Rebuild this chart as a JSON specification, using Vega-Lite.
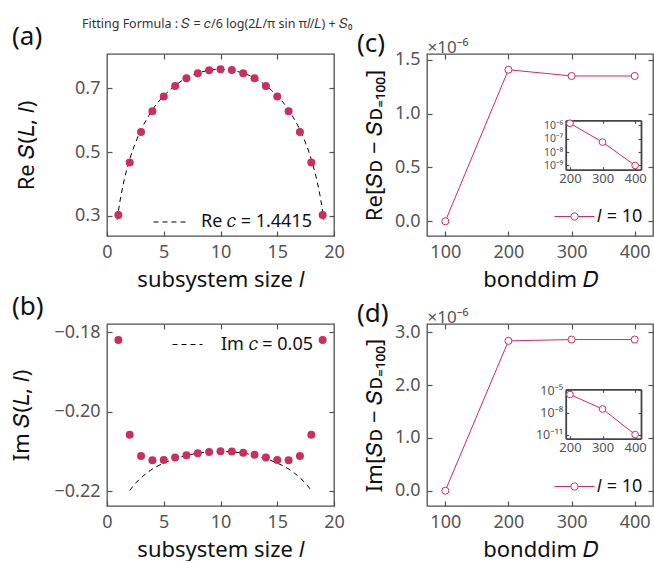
{
  "$schema": "https://vega.github.io/schema/vega-lite/v6.json",
  "background": "white",
  "padding": {"left": 10, "top": 18, "right": 0, "bottom": 0},
  "autosize": {"type": "pad"},
  "title": {"text": "Fitting Formula : 𝑆 = 𝑐/6 log(2𝐿/π sin π𝑙/𝐿) + 𝑆₀", "anchor": "start", "frame": "group", "dx": -25, "offset": -7, "fontSize": 12.5, "fontWeight": "normal", "color": "#333"},
  "bounds": "flush",
  "columns": 2,
  "spacing": {"row": 88, "column": 93},
  "resolve": {"scale": {"color": "independent", "strokeDash": "independent"}, "legend": {"color": "independent", "strokeDash": "independent"}},
  "datasets": {
    "pointsA": [
      {"l": 1, "S": 0.303}, {"l": 2, "S": 0.467}, {"l": 3, "S": 0.563}, {"l": 4, "S": 0.628}, {"l": 5, "S": 0.674},
      {"l": 6, "S": 0.707}, {"l": 7, "S": 0.731}, {"l": 8, "S": 0.747}, {"l": 9, "S": 0.756}, {"l": 10, "S": 0.759},
      {"l": 11, "S": 0.757}, {"l": 12, "S": 0.747}, {"l": 13, "S": 0.731}, {"l": 14, "S": 0.707}, {"l": 15, "S": 0.674},
      {"l": 16, "S": 0.628}, {"l": 17, "S": 0.563}, {"l": 18, "S": 0.467}, {"l": 19, "S": 0.303}
    ],
    "curveA": [
      {"l": 0.9, "S": 0.288, "fit": "Re 𝑐 = 1.4415"}, {"l": 1, "S": 0.314, "fit": "Re 𝑐 = 1.4415"}, {"l": 1.25, "S": 0.367, "fit": "Re 𝑐 = 1.4415"},
      {"l": 1.5, "S": 0.41, "fit": "Re 𝑐 = 1.4415"}, {"l": 2, "S": 0.477, "fit": "Re 𝑐 = 1.4415"}, {"l": 2.5, "S": 0.528, "fit": "Re 𝑐 = 1.4415"},
      {"l": 3, "S": 0.57, "fit": "Re 𝑐 = 1.4415"}, {"l": 3.5, "S": 0.603, "fit": "Re 𝑐 = 1.4415"}, {"l": 4, "S": 0.632, "fit": "Re 𝑐 = 1.4415"},
      {"l": 4.5, "S": 0.656, "fit": "Re 𝑐 = 1.4415"}, {"l": 5, "S": 0.676, "fit": "Re 𝑐 = 1.4415"}, {"l": 5.5, "S": 0.693, "fit": "Re 𝑐 = 1.4415"},
      {"l": 6, "S": 0.708, "fit": "Re 𝑐 = 1.4415"}, {"l": 7, "S": 0.732, "fit": "Re 𝑐 = 1.4415"}, {"l": 8, "S": 0.747, "fit": "Re 𝑐 = 1.4415"},
      {"l": 9, "S": 0.756, "fit": "Re 𝑐 = 1.4415"}, {"l": 10, "S": 0.759, "fit": "Re 𝑐 = 1.4415"}, {"l": 11, "S": 0.756, "fit": "Re 𝑐 = 1.4415"},
      {"l": 12, "S": 0.747, "fit": "Re 𝑐 = 1.4415"}, {"l": 13, "S": 0.732, "fit": "Re 𝑐 = 1.4415"}, {"l": 14, "S": 0.708, "fit": "Re 𝑐 = 1.4415"},
      {"l": 14.5, "S": 0.693, "fit": "Re 𝑐 = 1.4415"}, {"l": 15, "S": 0.676, "fit": "Re 𝑐 = 1.4415"}, {"l": 15.5, "S": 0.656, "fit": "Re 𝑐 = 1.4415"},
      {"l": 16, "S": 0.632, "fit": "Re 𝑐 = 1.4415"}, {"l": 16.5, "S": 0.603, "fit": "Re 𝑐 = 1.4415"}, {"l": 17, "S": 0.57, "fit": "Re 𝑐 = 1.4415"},
      {"l": 17.5, "S": 0.528, "fit": "Re 𝑐 = 1.4415"}, {"l": 18, "S": 0.477, "fit": "Re 𝑐 = 1.4415"}, {"l": 18.5, "S": 0.41, "fit": "Re 𝑐 = 1.4415"},
      {"l": 18.75, "S": 0.367, "fit": "Re 𝑐 = 1.4415"}, {"l": 19, "S": 0.314, "fit": "Re 𝑐 = 1.4415"}, {"l": 19.1, "S": 0.288, "fit": "Re 𝑐 = 1.4415"}
    ],
    "pointsB": [
      {"l": 1, "S": -0.1819}, {"l": 2, "S": -0.2058}, {"l": 3, "S": -0.2111}, {"l": 4, "S": -0.2122}, {"l": 5, "S": -0.2121},
      {"l": 6, "S": -0.2115}, {"l": 7, "S": -0.2109}, {"l": 8, "S": -0.2104}, {"l": 9, "S": -0.2101}, {"l": 10, "S": -0.2099},
      {"l": 11, "S": -0.21}, {"l": 12, "S": -0.2103}, {"l": 13, "S": -0.2108}, {"l": 14, "S": -0.2115}, {"l": 15, "S": -0.2121},
      {"l": 16, "S": -0.2122}, {"l": 17, "S": -0.2111}, {"l": 18, "S": -0.2058}, {"l": 19, "S": -0.1819}
    ],
    "curveB": [
      {"l": 2, "S": -0.2198, "fit": "Im 𝑐 = 0.05"}, {"l": 2.5, "S": -0.218, "fit": "Im 𝑐 = 0.05"}, {"l": 3, "S": -0.2166, "fit": "Im 𝑐 = 0.05"},
      {"l": 3.5, "S": -0.2154, "fit": "Im 𝑐 = 0.05"}, {"l": 4, "S": -0.2144, "fit": "Im 𝑐 = 0.05"}, {"l": 5, "S": -0.2129, "fit": "Im 𝑐 = 0.05"},
      {"l": 6, "S": -0.2118, "fit": "Im 𝑐 = 0.05"}, {"l": 7, "S": -0.211, "fit": "Im 𝑐 = 0.05"}, {"l": 8, "S": -0.2104, "fit": "Im 𝑐 = 0.05"},
      {"l": 9, "S": -0.2101, "fit": "Im 𝑐 = 0.05"}, {"l": 10, "S": -0.21, "fit": "Im 𝑐 = 0.05"}, {"l": 11, "S": -0.2101, "fit": "Im 𝑐 = 0.05"},
      {"l": 12, "S": -0.2104, "fit": "Im 𝑐 = 0.05"}, {"l": 13, "S": -0.211, "fit": "Im 𝑐 = 0.05"}, {"l": 14, "S": -0.2118, "fit": "Im 𝑐 = 0.05"},
      {"l": 15, "S": -0.2129, "fit": "Im 𝑐 = 0.05"}, {"l": 16, "S": -0.2144, "fit": "Im 𝑐 = 0.05"}, {"l": 16.5, "S": -0.2154, "fit": "Im 𝑐 = 0.05"},
      {"l": 17, "S": -0.2166, "fit": "Im 𝑐 = 0.05"}, {"l": 17.5, "S": -0.218, "fit": "Im 𝑐 = 0.05"}, {"l": 18, "S": -0.2198, "fit": "Im 𝑐 = 0.05"}
    ],
    "mainC": [
      {"D": 100, "v": 0, "series": "𝑙 = 10"}, {"D": 200, "v": 1.407, "series": "𝑙 = 10"},
      {"D": 300, "v": 1.349, "series": "𝑙 = 10"}, {"D": 400, "v": 1.349, "series": "𝑙 = 10"}
    ],
    "insetC": [
      {"D": 200, "diff": 1.4e-6}, {"D": 300, "diff": 5.5e-8}, {"D": 400, "diff": 1e-9}
    ],
    "mainD": [
      {"D": 100, "v": 0, "series": "𝑙 = 10"}, {"D": 200, "v": 2.84, "series": "𝑙 = 10"},
      {"D": 300, "v": 2.865, "series": "𝑙 = 10"}, {"D": 400, "v": 2.865, "series": "𝑙 = 10"}
    ],
    "insetD": [
      {"D": 200, "diff": 2.84e-6}, {"D": 300, "diff": 3e-8}, {"D": 400, "diff": 1e-11}
    ]
  },
  "concat": [
    {
      "width": 227, "height": 182,
      "title": {"text": "(a)", "anchor": "start", "frame": "group", "dx": -95, "offset": 3, "fontSize": 26, "fontWeight": "normal", "color": "#111"},
      "layer": [
        {
          "data": {"name": "curveA"},
          "mark": {"type": "line", "color": "black", "strokeWidth": 1, "interpolate": "monotone"},
          "encoding": {
            "x": {"field": "l", "type": "quantitative", "scale": {"domain": [0, 20], "nice": false, "zero": false},
                  "axis": {"orient": "bottom", "values": [0, 5, 10, 15, 20], "title": "subsystem size 𝑙", "titlePadding": 8}},
            "y": {"field": "S", "type": "quantitative", "scale": {"domain": [0.237, 0.807], "nice": false, "zero": false},
                  "axis": {"orient": "left", "values": [0.3, 0.5, 0.7], "format": ".1f", "title": "Re 𝑆(𝐿, 𝑙)", "titlePadding": 36}},
            "strokeDash": {"field": "fit", "type": "nominal", "scale": {"domain": ["Re 𝑐 = 1.4415"], "range": [[5, 4]]},
                  "legend": {"title": null, "orient": "none", "legendX": 46, "legendY": 150, "symbolType": "stroke", "symbolSize": 1225, "symbolStrokeWidth": 1, "symbolStrokeColor": "black", "labelFontSize": 18, "labelColor": "#111", "labelOffset": 12, "padding": 0}}
          }
        },
        {
          "data": {"name": "pointsA"},
          "mark": {"type": "circle", "size": 64, "color": "#C9305F", "opacity": 1},
          "encoding": {
            "x": {"field": "l", "type": "quantitative", "scale": {"domain": [0, 20], "nice": false, "zero": false},
                  "axis": {"orient": "top", "values": [5, 10, 15], "labels": false, "title": null}},
            "y": {"field": "S", "type": "quantitative", "scale": {"domain": [0.237, 0.807], "nice": false, "zero": false},
                  "axis": {"orient": "right", "values": [0.3, 0.5, 0.7], "labels": false, "title": null}}
          }
        }
      ],
      "resolve": {"axis": {"x": "independent", "y": "independent"}}
    },
    {
      "width": 226, "height": 182,
      "title": {"text": "(c)", "anchor": "start", "frame": "group", "dx": -70, "dy": 22, "offset": 3, "fontSize": 26, "fontWeight": "normal", "color": "#111"},
      "layer": [
        {
          "layer": [
            {
              "data": {"name": "mainC"},
              "mark": {"type": "line", "strokeWidth": 1},
              "encoding": {
                "x": {"field": "D", "type": "quantitative", "scale": {"domain": [71, 429], "nice": false, "zero": false},
                      "axis": {"orient": "bottom", "values": [100, 200, 300, 400], "title": "bonddim 𝐷", "titlePadding": 8}},
                "y": {"field": "v", "type": "quantitative", "scale": {"domain": [-0.137, 1.553], "nice": false, "zero": false},
                      "axis": {"orient": "left", "values": [0, 0.5, 1, 1.5], "format": ".1f", "title": "Re[𝑆ᴅ − 𝑆ᴅ₌₁₀₀]", "titlePadding": 8}},
                "color": {"field": "series", "type": "nominal", "scale": {"range": ["#D42A5E"]},
                      "legend": {"title": null, "orient": "bottom-right", "offset": 10, "padding": 0, "symbolType": "M-1,0H-0.18M0.18,0H1M0.18,0A0.18,0.18,0,1,1,-0.18,0A0.18,0.18,0,1,1,0.18,0Z", "symbolSize": 1600, "symbolStrokeWidth": 1, "symbolFillColor": "white", "labelFontSize": 18, "labelColor": "#111", "labelOffset": 2,
                        "encode": {"symbols": {"update": {"fill": {"value": "white"}, "stroke": {"value": "#D42A5E"}, "strokeWidth": {"value": 1}}}}}}
              }
            },
            {
              "data": {"name": "mainC"},
              "mark": {"type": "point", "shape": "circle", "fill": "white", "stroke": "#D42A5E", "strokeWidth": 1, "size": 50, "opacity": 1, "fillOpacity": 1},
              "encoding": {
                "x": {"field": "D", "type": "quantitative", "scale": {"domain": [71, 429], "nice": false, "zero": false},
                      "axis": {"orient": "top", "values": [100, 200, 300, 400], "labels": false, "title": "×10⁻⁶", "titleAnchor": "start", "titleAlign": "left", "titleFontSize": 17, "titleColor": "#555", "titlePadding": -3}},
                "y": {"field": "v", "type": "quantitative", "scale": {"domain": [-0.137, 1.553], "nice": false, "zero": false},
                      "axis": {"orient": "right", "values": [0, 0.5, 1, 1.5], "labels": false, "title": null}}
              }
            }
          ],
          "resolve": {"axis": {"x": "independent", "y": "independent"}}
        },
        {
          "layer": [
            {
              "data": {"name": "insetC"},
              "mark": {"type": "line", "strokeWidth": 1, "color": "#D42A5E"},
              "encoding": {
                "x": {"field": "D", "type": "quantitative", "scale": {"domain": [187, 418], "range": [138.7, 214], "nice": false, "zero": false},
                      "axis": {"orient": "bottom", "offset": -66.3, "values": [200, 300, 400], "title": null, "domain": true, "domainColor": "#444", "domainWidth": 1.8, "tickSize": -3, "labelFontSize": 13, "labelPadding": 6}},
                "y": {"field": "diff", "type": "quantitative", "scale": {"type": "log", "domain": [4.86e-10, 2.32e-6], "range": [115.7, 66.3], "nice": false, "zero": false},
                      "axis": {"orient": "left", "offset": -138.7, "values": [1e-9, 1e-8, 1e-7, 1e-6], "labelOverlap": false, "labelExpr": "datum.value < 5e-9 ? '10⁻⁹' : datum.value < 5e-8 ? '10⁻⁸' : datum.value < 5e-7 ? '10⁻⁷' : '10⁻⁶'", "title": null, "domain": true, "domainColor": "#444", "domainWidth": 1.8, "tickSize": -3, "labelFontSize": 10.5, "labelPadding": 6}}
              }
            },
            {
              "data": {"name": "insetC"},
              "mark": {"type": "point", "shape": "circle", "fill": "white", "stroke": "#D42A5E", "strokeWidth": 1, "size": 45, "opacity": 1, "fillOpacity": 1},
              "encoding": {
                "x": {"field": "D", "type": "quantitative", "scale": {"domain": [187, 418], "range": [138.7, 214], "nice": false, "zero": false},
                      "axis": {"orient": "top", "offset": -66.3, "values": [200, 300, 400], "labels": false, "title": null, "domain": true, "domainColor": "#444", "domainWidth": 1.8, "tickSize": -3}},
                "y": {"field": "diff", "type": "quantitative", "scale": {"type": "log", "domain": [4.86e-10, 2.32e-6], "range": [115.7, 66.3], "nice": false, "zero": false},
                      "axis": {"orient": "right", "offset": -12, "values": [1e-9, 1e-8, 1e-7, 1e-6], "labels": false, "title": null, "domain": true, "domainColor": "#444", "domainWidth": 1.8, "tickSize": -3}}
              }
            }
          ],
          "resolve": {"axis": {"x": "independent", "y": "independent"}}
        }
      ],
      "resolve": {"scale": {"x": "independent", "y": "independent"}}
    },
    {
      "width": 227, "height": 182,
      "title": {"text": "(b)", "anchor": "start", "frame": "group", "dx": -95, "offset": 3, "fontSize": 26, "fontWeight": "normal", "color": "#111"},
      "layer": [
        {
          "data": {"name": "curveB"},
          "mark": {"type": "line", "color": "black", "strokeWidth": 1, "interpolate": "monotone"},
          "encoding": {
            "x": {"field": "l", "type": "quantitative", "scale": {"domain": [0, 20], "nice": false, "zero": false},
                  "axis": {"orient": "bottom", "values": [0, 5, 10, 15, 20], "title": "subsystem size 𝑙", "titlePadding": 8}},
            "y": {"field": "S", "type": "quantitative", "scale": {"domain": [-0.2237, -0.1779], "nice": false, "zero": false},
                  "axis": {"orient": "left", "values": [-0.22, -0.2, -0.18], "format": ".2f", "title": "Im 𝑆(𝐿, 𝑙)", "titlePadding": 20}},
            "strokeDash": {"field": "fit", "type": "nominal", "scale": {"domain": ["Im 𝑐 = 0.05"], "range": [[5, 4]]},
                  "legend": {"title": null, "orient": "none", "legendX": 65, "legendY": 5, "symbolType": "stroke", "symbolSize": 900, "symbolStrokeWidth": 1, "symbolStrokeColor": "black", "labelFontSize": 18, "labelColor": "#111", "labelOffset": 18, "padding": 0}}
          }
        },
        {
          "data": {"name": "pointsB"},
          "mark": {"type": "circle", "size": 64, "color": "#C9305F", "opacity": 1},
          "encoding": {
            "x": {"field": "l", "type": "quantitative", "scale": {"domain": [0, 20], "nice": false, "zero": false},
                  "axis": {"orient": "top", "values": [5, 10, 15], "labels": false, "title": null}},
            "y": {"field": "S", "type": "quantitative", "scale": {"domain": [-0.2237, -0.1779], "nice": false, "zero": false},
                  "axis": {"orient": "right", "values": [-0.22, -0.2, -0.18], "labels": false, "title": null}}
          }
        }
      ],
      "resolve": {"axis": {"x": "independent", "y": "independent"}}
    },
    {
      "width": 226, "height": 182,
      "title": {"text": "(d)", "anchor": "start", "frame": "group", "dx": -70, "dy": 22, "offset": 3, "fontSize": 26, "fontWeight": "normal", "color": "#111"},
      "layer": [
        {
          "layer": [
            {
              "data": {"name": "mainD"},
              "mark": {"type": "line", "strokeWidth": 1},
              "encoding": {
                "x": {"field": "D", "type": "quantitative", "scale": {"domain": [71, 429], "nice": false, "zero": false},
                      "axis": {"orient": "bottom", "values": [100, 200, 300, 400], "title": "bonddim 𝐷", "titlePadding": 8}},
                "y": {"field": "v", "type": "quantitative", "scale": {"domain": [-0.29, 3.16], "nice": false, "zero": false},
                      "axis": {"orient": "left", "values": [0, 1, 2, 3], "format": ".1f", "title": "Im[𝑆ᴅ − 𝑆ᴅ₌₁₀₀]", "titlePadding": 8}},
                "color": {"field": "series", "type": "nominal", "scale": {"range": ["#D42A5E"]},
                      "legend": {"title": null, "orient": "bottom-right", "offset": 10, "padding": 0, "symbolType": "M-1,0H-0.18M0.18,0H1M0.18,0A0.18,0.18,0,1,1,-0.18,0A0.18,0.18,0,1,1,0.18,0Z", "symbolSize": 1600, "symbolStrokeWidth": 1, "symbolFillColor": "white", "labelFontSize": 18, "labelColor": "#111", "labelOffset": 2,
                        "encode": {"symbols": {"update": {"fill": {"value": "white"}, "stroke": {"value": "#D42A5E"}, "strokeWidth": {"value": 1}}}}}}
              }
            },
            {
              "data": {"name": "mainD"},
              "mark": {"type": "point", "shape": "circle", "fill": "white", "stroke": "#D42A5E", "strokeWidth": 1, "size": 50, "opacity": 1, "fillOpacity": 1},
              "encoding": {
                "x": {"field": "D", "type": "quantitative", "scale": {"domain": [71, 429], "nice": false, "zero": false},
                      "axis": {"orient": "top", "values": [100, 200, 300, 400], "labels": false, "title": "×10⁻⁶", "titleAnchor": "start", "titleAlign": "left", "titleFontSize": 17, "titleColor": "#555", "titlePadding": -3}},
                "y": {"field": "v", "type": "quantitative", "scale": {"domain": [-0.29, 3.16], "nice": false, "zero": false},
                      "axis": {"orient": "right", "values": [0, 1, 2, 3], "labels": false, "title": null}}
              }
            }
          ],
          "resolve": {"axis": {"x": "independent", "y": "independent"}}
        },
        {
          "layer": [
            {
              "data": {"name": "insetD"},
              "mark": {"type": "line", "strokeWidth": 1, "color": "#D42A5E"},
              "encoding": {
                "x": {"field": "D", "type": "quantitative", "scale": {"domain": [187, 418], "range": [138.7, 214], "nice": false, "zero": false},
                      "axis": {"orient": "bottom", "offset": -67.3, "values": [200, 300, 400], "title": null, "domain": true, "domainColor": "#444", "domainWidth": 1.8, "tickSize": -3, "labelFontSize": 13, "labelPadding": 6}},
                "y": {"field": "diff", "type": "quantitative", "scale": {"type": "log", "domain": [2.7e-12, 1.45e-5], "range": [114.7, 65.3], "nice": false, "zero": false},
                      "axis": {"orient": "left", "offset": -138.7, "values": [1e-11, 1e-8, 1e-5], "labelOverlap": false, "labelExpr": "datum.value < 1e-10 ? '10⁻¹¹' : datum.value < 1e-7 ? '10⁻⁸' : '10⁻⁵'", "title": null, "domain": true, "domainColor": "#444", "domainWidth": 1.8, "tickSize": -3, "labelFontSize": 12.5, "labelPadding": 6}}
              }
            },
            {
              "data": {"name": "insetD"},
              "mark": {"type": "point", "shape": "circle", "fill": "white", "stroke": "#D42A5E", "strokeWidth": 1, "size": 45, "opacity": 1, "fillOpacity": 1},
              "encoding": {
                "x": {"field": "D", "type": "quantitative", "scale": {"domain": [187, 418], "range": [138.7, 214], "nice": false, "zero": false},
                      "axis": {"orient": "top", "offset": -65.3, "values": [200, 300, 400], "labels": false, "title": null, "domain": true, "domainColor": "#444", "domainWidth": 1.8, "tickSize": -3}},
                "y": {"field": "diff", "type": "quantitative", "scale": {"type": "log", "domain": [2.7e-12, 1.45e-5], "range": [114.7, 65.3], "nice": false, "zero": false},
                      "axis": {"orient": "right", "offset": -12, "values": [1e-11, 1e-8, 1e-5], "labels": false, "title": null, "domain": true, "domainColor": "#444", "domainWidth": 1.8, "tickSize": -3}}
              }
            }
          ],
          "resolve": {"axis": {"x": "independent", "y": "independent"}}
        }
      ],
      "resolve": {"scale": {"x": "independent", "y": "independent"}}
    }
  ],
  "config": {
    "font": "Noto Sans",
    "view": {"stroke": "#505050", "strokeWidth": 1.3},
    "axis": {"grid": false, "domain": false, "tickColor": "#505050", "tickSize": -5, "tickWidth": 1.2, "labelColor": "#555", "labelFontSize": 18, "titleFontSize": 22, "titleFontWeight": "normal", "titleColor": "#111", "labelPadding": 12, "labelFlush": false, "labelOverlap": false},
    "legend": {"labelFont": "Noto Sans"}
  }
}
